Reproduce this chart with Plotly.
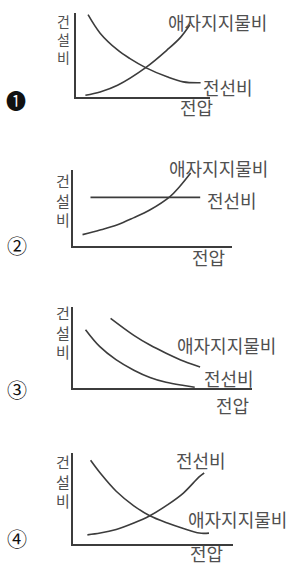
import plotly.graph_objects as go

W, H = 296, 565
LINE = "#3c3c3c"
TXT = "#505050"
FONT = "Noto Sans CJK KR, DejaVu Sans, sans-serif"

# ---- data (abstract units, axis box = 0..10 in both directions) ----
# Panel 1
p1_wire_x = [0.9, 1.8, 3.1, 4.0, 5.2, 6.8, 8.0, 9.3]
p1_wire_y = [9.8, 7.6, 5.6, 4.6, 3.5, 2.4, 1.8, 1.7]
p1_ins_x = [0.7, 1.8, 3.1, 5.2, 6.8, 7.8, 8.5]
p1_ins_y = [0.2, 0.6, 1.4, 3.5, 5.6, 7.1, 8.6]
# Panel 2
p2_wire_x = [1.1, 8.0]
p2_wire_y = [6.4, 6.4]
p2_ins_x = [0.6, 1.7, 2.8, 3.8, 4.8, 6.1, 6.7, 7.4]
p2_ins_y = [1.5, 2.1, 2.8, 3.7, 4.7, 6.5, 7.8, 9.6]
# Panel 3
p3_ins_x = [2.1, 3.4, 4.3, 5.2, 6.2, 7.1]
p3_ins_y = [8.6, 6.5, 5.3, 4.3, 3.3, 2.6]
p3_wire_x = [0.7, 1.5, 2.4, 3.4, 4.3, 5.2, 6.2, 6.8]
p3_wire_y = [7.2, 5.1, 3.5, 2.2, 1.3, 0.7, 0.3, 0.1]
# Panel 4
p4_ins_x = [1.1, 1.7, 2.7, 3.8, 4.8, 5.9, 6.9, 7.9, 8.5]
p4_ins_y = [9.2, 7.8, 5.8, 4.2, 3.1, 2.3, 1.7, 1.2, 1.2]
p4_wire_x = [0.9, 1.7, 2.7, 3.8, 4.8, 5.9, 6.9, 7.9, 8.2]
p4_wire_y = [1.0, 1.2, 1.6, 2.3, 3.1, 4.3, 5.6, 7.4, 7.8]

y_title_chars = ["건", "설", "비"]
x_title = "전압"
wire_label = "전선비"
ins_label = "애자지지물비"
markers = ["❶", "②", "③", "④"]

series = [
    [(p1_wire_x, p1_wire_y), (p1_ins_x, p1_ins_y)],
    [(p2_wire_x, p2_wire_y), (p2_ins_x, p2_ins_y)],
    [(p3_ins_x, p3_ins_y), (p3_wire_x, p3_wire_y)],
    [(p4_ins_x, p4_ins_y), (p4_wire_x, p4_wire_y)],
]

# layout geometry in pixels: (left, right, top, bottom)
boxes = [(76, 210, 13, 97), (73, 232, 170, 246), (73, 252, 307, 388), (73, 233, 453, 544)]

fig = go.Figure()
for i, (box, ser) in enumerate(zip(boxes, series)):
    n = "" if i == 0 else str(i + 1)
    for xs, ys in ser:
        fig.add_trace(go.Scatter(
            x=xs, y=ys, mode="lines",
            line=dict(color=LINE, width=1.6, shape="spline", smoothing=1.0),
            xaxis="x" + n, yaxis="y" + n, showlegend=False, hoverinfo="skip"))
    l, r, t, b = box
    common = dict(range=[0, 10], showline=True, linecolor=LINE, linewidth=1.6,
                  showgrid=False, zeroline=False, showticklabels=False, ticks="",
                  fixedrange=True)
    fig.layout["xaxis" + n] = dict(domain=[l / W, r / W], anchor="y" + n, **common)
    fig.layout["yaxis" + n] = dict(domain=[1 - b / H, 1 - t / H], anchor="x" + n, **common)

# text placements (pixel centres)
labels = [
    # panel 1
    (ins_label, 217, 22), (wire_label, 228, 87), (x_title, 196, 107),
    # panel 2
    (ins_label, 218, 168), (wire_label, 232, 200), (x_title, 209, 257),
    # panel 3
    (ins_label, 226, 345), (wire_label, 229, 378), (x_title, 232, 405),
    # panel 4
    (wire_label, 201, 460), (ins_label, 237, 519), (x_title, 206, 553),
]
# stacked y titles: (centre x, centre y, font size)
ylab_pos = [(63, 39, 14), (63, 200, 15), (63, 332, 15), (63, 481, 15)]
marker_pos = [(16, 100), (17, 246), (17, 389), (17, 538)]

ann = []
for text, cx, cy in labels:
    ann.append(dict(text=text, x=cx / W, y=1 - cy / H, xref="paper", yref="paper",
                    xanchor="center", yanchor="middle", showarrow=False,
                    font=dict(family=FONT, size=18, color=TXT)))
for cx, cy, sz in ylab_pos:
    ann.append(dict(text="<br>".join(y_title_chars), x=cx / W, y=1 - cy / H,
                    xref="paper", yref="paper", xanchor="center", yanchor="middle",
                    showarrow=False, font=dict(family=FONT, size=sz, color=TXT)))
for m, (cx, cy) in zip(markers, marker_pos):
    ann.append(dict(text=m, x=cx / W, y=1 - cy / H, xref="paper", yref="paper",
                    xanchor="center", yanchor="middle", showarrow=False,
                    font=dict(family=FONT, size=20, color="#111111")))

fig.update_layout(width=W, height=H, autosize=False,
                  margin=dict(l=0, r=0, t=0, b=0, pad=0),
                  paper_bgcolor="white", plot_bgcolor="white",
                  annotations=ann)
fig.write_html("out.html", config={"displayModeBar": False},
               post_script="document.body.style.margin='0';document.body.style.overflow='hidden';")
